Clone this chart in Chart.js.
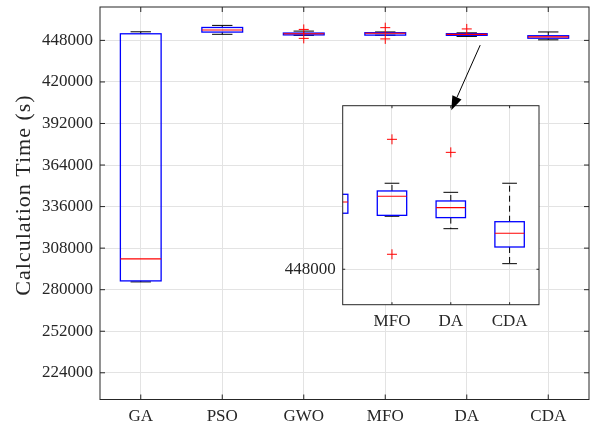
<!DOCTYPE html>
<html>
<head>
<meta charset="utf-8">
<script src="https://cdn.jsdelivr.net/npm/chart.js@4.4.1/dist/chart.umd.min.js"></script>
<style>
    html, body { margin: 0; padding: 0; background: #fff; }
    #wrap { position: relative; width: 595px; height: 428px; overflow: hidden; }
    #mainCanvas { position: absolute; left: 0; top: 0; }
    #insetCanvas { position: absolute; left: 270px; top: 30px; }
</style>
</head>
<body>
<div id="wrap">
    <canvas id="mainCanvas" width="595" height="428"></canvas>
    <canvas id="insetCanvas" width="275" height="305"></canvas>
</div>
<script>
// Box plot statistics (calculation time in s)
const categories = ['GA', 'PSO', 'GWO', 'MFO', 'DA', 'CDA'];
const whiskerLow  = [285250, 452100, 451400, 451500, 450680, 448370];
const q1          = [285930, 453600, 451700, 451560, 451410, 449470];
const median      = [300750, 455000, 452440, 452820, 452070, 450380];
const q3          = [452450, 456700, 452950, 453170, 452510, 451140];
const whiskerHigh = [453800, 458100, 454260, 453680, 453080, 453680];
const outliers    = [[], [], [455400, 449350], [456580, 448990], [455720], []];

const yTicks = [224000, 252000, 280000, 308000, 336000, 364000, 392000, 420000, 448000];
const insetYTicks = [448000];
const insetCategories = [4, 5, 6]; // MFO, DA, CDA positions

// arrow from the main plot to the zoomed view, in main axis units
const arrowFrom = [5.165, 444800];
const arrowTo = [4.81, 401000];

const FONT = '"Liberation Serif", "Times New Roman", serif';
const TEXT_COLOR = '#262626';
const GRID_COLOR = '#e3e3e3';

function outlierPoints() {
    const pts = [];
    outliers.forEach((list, i) => {
        list.forEach(v => pts.push({ x: i + 1, y: v }));
    });
    return pts;
}

function line(ctx, x1, y1, x2, y2) {
    ctx.beginPath();
    ctx.moveTo(x1, y1);
    ctx.lineTo(x2, y2);
    ctx.stroke();
}

// draws boxes, whiskers and medians through the chart scales
function makeBoxPlugin(tickLen) {
    return {
        id: 'boxes',
        beforeDraw(chart) {
            const { ctx, chartArea } = chart;
            ctx.save();
            ctx.fillStyle = '#fff';
            ctx.fillRect(chartArea.left, chartArea.top, chartArea.right - chartArea.left, chartArea.bottom - chartArea.top);
            ctx.restore();
        },
        beforeDatasetsDraw(chart) {
            const { ctx, chartArea, scales: { x, y } } = chart;
            ctx.save();
            ctx.beginPath();
            ctx.rect(chartArea.left, chartArea.top, chartArea.right - chartArea.left, chartArea.bottom - chartArea.top);
            ctx.clip();
            categories.forEach((c, i) => {
                const pos = i + 1;
                const xc = x.getPixelForValue(pos);
                const xl = x.getPixelForValue(pos - 0.25);
                const xr = x.getPixelForValue(pos + 0.25);
                const cl = x.getPixelForValue(pos - 0.125);
                const cr = x.getPixelForValue(pos + 0.125);
                const yLo = y.getPixelForValue(whiskerLow[i]);
                const yHi = y.getPixelForValue(whiskerHigh[i]);
                const y1 = y.getPixelForValue(q1[i]);
                const y3 = y.getPixelForValue(q3[i]);
                const ym = y.getPixelForValue(median[i]);

                // whiskers
                ctx.strokeStyle = '#000';
                ctx.lineWidth = 1;
                ctx.setLineDash([6, 4]);
                line(ctx, xc, y3, xc, yHi);
                line(ctx, xc, y1, xc, yLo);
                ctx.setLineDash([]);
                line(ctx, cl, yHi, cr, yHi);
                line(ctx, cl, yLo, cr, yLo);

                // box
                ctx.strokeStyle = '#0000ff';
                ctx.lineWidth = 1.3;
                ctx.strokeRect(xl, y3, xr - xl, y1 - y3);

                // median
                ctx.strokeStyle = '#ff0000';
                ctx.lineWidth = 1.1;
                line(ctx, xl, ym, xr, ym);
            });
            ctx.restore();
        },
        afterDraw(chart) {
            const { ctx, chartArea: a, scales: { x, y } } = chart;
            ctx.save();
            ctx.strokeStyle = TEXT_COLOR;
            ctx.lineWidth = 1;
            // inward tick marks like matlab
            x.ticks.forEach(t => {
                const px = x.getPixelForValue(t.value);
                line(ctx, px, a.bottom, px, a.bottom - tickLen);
                line(ctx, px, a.top, px, a.top + tickLen);
            });
            y.ticks.forEach(t => {
                const py = y.getPixelForValue(t.value);
                line(ctx, a.left, py, a.left + tickLen, py);
                line(ctx, a.right, py, a.right - tickLen, py);
            });
            ctx.strokeRect(a.left, a.top, a.right - a.left, a.bottom - a.top);
            ctx.restore();
        }
    };
}

const yTitlePlugin = {
    id: 'yTitle',
    afterDraw(chart) {
        const ctx = chart.ctx;
        ctx.save();
        ctx.translate(24, 195);
        ctx.rotate(-Math.PI / 2);
        ctx.font = '22px ' + FONT;
        ctx.letterSpacing = '1px';
        ctx.fillStyle = TEXT_COLOR;
        ctx.textAlign = 'center';
        ctx.textBaseline = 'middle';
        ctx.fillText('Calculation Time (s)', 0, 0);
        ctx.restore();
    }
};

const outlierDataset = () => ({
    data: outlierPoints(),
    pointStyle: 'cross',
    pointRadius: 5,
    pointHoverRadius: 5,
    pointBorderColor: '#ff0000',
    pointBorderWidth: 1,
    clip: 0
});

const tickFont = { family: FONT, size: 17 };

// stop Chart.js from reserving room for half tick labels at the ends
function fitX(h) {
    return s => { s.height = h; s.paddingLeft = 0; s.paddingRight = 0; };
}
function fitY(w) {
    return s => { s.width = w; s.paddingTop = 0; s.paddingBottom = 0; };
}

const mainChart = new Chart(document.getElementById('mainCanvas'), {
    type: 'scatter',
    data: { datasets: [outlierDataset()] },
    options: {
        responsive: false,
        animation: false,
        events: [],
        layout: { padding: { top: 7, right: 5, left: 0, bottom: 0 } },
        plugins: { legend: { display: false }, tooltip: { enabled: false } },
        scales: {
            x: {
                type: 'linear',
                min: 0.5,
                max: 6.5,
                afterBuildTicks: s => { s.ticks = categories.map((c, i) => ({ value: i + 1 })); },
                afterFit: fitX(28.5),
                ticks: { callback: v => categories[v - 1], font: tickFont, color: TEXT_COLOR, padding: 7, autoSkip: false, maxRotation: 0 },
                grid: { color: GRID_COLOR, drawTicks: false },
                border: { display: false }
            },
            y: {
                type: 'linear',
                min: 206000,
                max: 470500,
                afterBuildTicks: s => { s.ticks = yTicks.map(v => ({ value: v })); },
                afterFit: fitY(100),
                ticks: { callback: v => String(v), font: tickFont, color: TEXT_COLOR, padding: 7, autoSkip: false },
                grid: { color: GRID_COLOR, drawTicks: false },
                border: { display: false }
            }
        }
    },
    plugins: [makeBoxPlugin(5), yTitlePlugin]
});

const insetCanvas = document.getElementById('insetCanvas');

const arrowPlugin = {
    id: 'arrow',
    afterDraw(chart) {
        const ctx = chart.ctx;
        const mx = mainChart.scales.x, my = mainChart.scales.y;
        const ox = insetCanvas.offsetLeft, oy = insetCanvas.offsetTop;
        const sx = mx.getPixelForValue(arrowFrom[0]) - ox;
        const sy = my.getPixelForValue(arrowFrom[1]) - oy;
        const ex = mx.getPixelForValue(arrowTo[0]) - ox;
        const ey = my.getPixelForValue(arrowTo[1]) - oy;
        const ang = Math.atan2(ey - sy, ex - sx);
        const headLen = 14, headW = 5;
        const bx = ex - headLen * Math.cos(ang), by = ey - headLen * Math.sin(ang);
        ctx.save();
        ctx.strokeStyle = '#000';
        ctx.fillStyle = '#000';
        ctx.lineWidth = 1;
        line(ctx, sx, sy, bx, by);
        ctx.beginPath();
        ctx.moveTo(ex, ey);
        ctx.lineTo(bx + headW * Math.sin(ang), by - headW * Math.cos(ang));
        ctx.lineTo(bx - headW * Math.sin(ang), by + headW * Math.cos(ang));
        ctx.closePath();
        ctx.fill();
        ctx.restore();
    }
};

const insetChart = new Chart(insetCanvas, {
    type: 'scatter',
    data: { datasets: [outlierDataset()] },
    options: {
        responsive: false,
        animation: false,
        events: [],
        layout: { padding: { top: 75.7, right: 4.7, left: 0, bottom: 0 } },
        plugins: { legend: { display: false }, tooltip: { enabled: false } },
        scales: {
            x: {
                type: 'linear',
                min: 3.162,
                max: 6.5,
                afterBuildTicks: s => { s.ticks = insetCategories.map(v => ({ value: v })); },
                afterFit: fitX(30.3),
                ticks: { callback: v => categories[v - 1], font: tickFont, color: TEXT_COLOR, padding: 7, autoSkip: false, maxRotation: 0 },
                grid: { color: GRID_COLOR, drawTicks: false },
                border: { display: false }
            },
            y: {
                type: 'linear',
                min: 445660,
                max: 458800,
                afterBuildTicks: s => { s.ticks = insetYTicks.map(v => ({ value: v })); },
                afterFit: fitY(72.7),
                ticks: { callback: v => String(v), font: tickFont, color: TEXT_COLOR, padding: 7, autoSkip: false },
                grid: { color: GRID_COLOR, drawTicks: false },
                border: { display: false }
            }
        }
    },
    plugins: [makeBoxPlugin(2.5), arrowPlugin]
});
</script>
</body>
</html>
